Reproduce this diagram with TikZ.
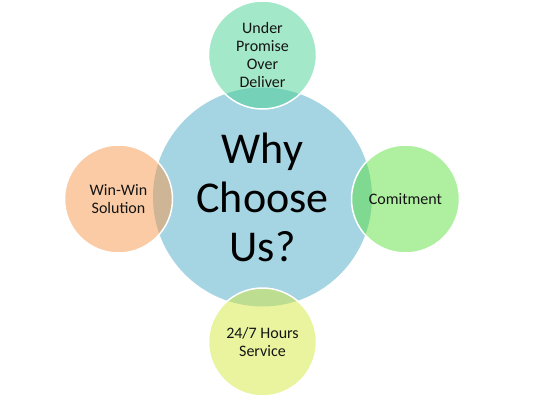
\documentclass[tikz,border=0pt]{standalone}
\usepackage{fontspec}
\setmainfont{Carlito}
\definecolor{cblue}{RGB}{165,212,226}
\definecolor{ctop}{RGB}{71,209,145}
\definecolor{cright}{RGB}{93,223,65}
\definecolor{cleft}{RGB}{245,151,73}
\definecolor{cbottom}{RGB}{213,233,63}
\definecolor{ctext}{RGB}{20,20,20}
\begin{document}
\begin{tikzpicture}[x=1pt,y=-1pt,
  hub/.style={circle,fill=cblue,minimum size=219pt,inner sep=0pt,align=center,
    text=black,font=\fontsize{44}{49}\selectfont},
  sat/.style={circle,fill=#1,fill opacity=0.5,text opacity=1,draw=white,draw opacity=1,
    line width=1.5pt,minimum size=108pt,inner sep=0pt,align=center,text=ctext,
    font=\fontsize{16}{18}\selectfont}]
\useasboundingbox (0,0) rectangle (535,400);
\node[hub] (hub) at (262.5,197) {Why\\Choose\\Us?};
\node[sat=ctop] (top) at (262.5,55) {Under\\Promise\\Over\\Deliver};
\node[sat=cright] (right) at (405.5,199) {Comitment};
\node[sat=cleft] (left) at (118.5,199) {Win-Win\\Solution};
\node[sat=cbottom] (bottom) at (262.5,342) {24/7 Hours\\Service};
\end{tikzpicture}
\end{document}
